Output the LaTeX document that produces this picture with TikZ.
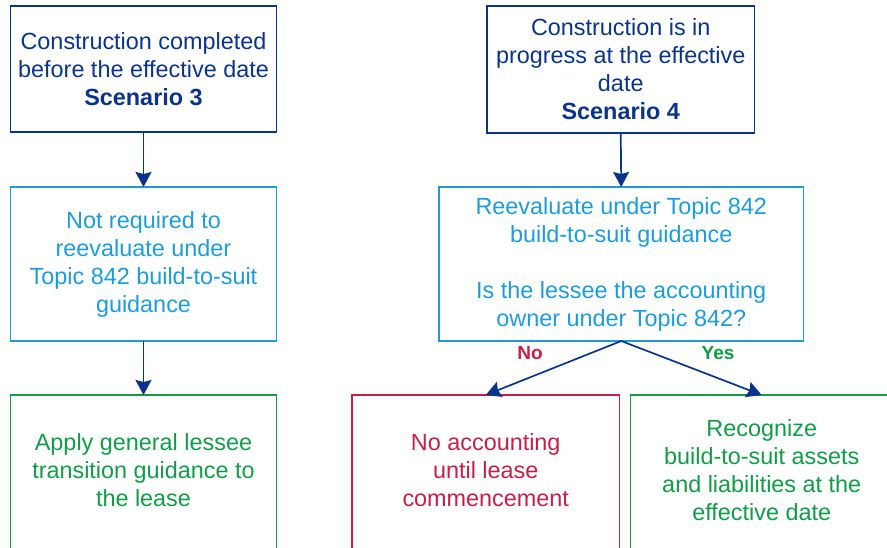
\documentclass[tikz,border=0pt]{standalone}
\usepackage{fontspec}
\setmainfont{Liberation Sans}
\usetikzlibrary{arrows.meta}
\definecolor{navy}{RGB}{10,52,140}
\definecolor{lblue}{RGB}{30,156,218}
\definecolor{lgreen}{RGB}{18,156,72}
\definecolor{crim}{RGB}{196,32,74}
\tikzset{
  box/.style={draw, line width=1.5pt, inner sep=0pt, outer sep=0pt, align=center,
    font=\fontsize{23.4}{28}\selectfont},
  txt/.style={inner sep=0pt, align=center, font=\fontsize{23.4}{28}\selectfont},
  navybox/.style={box, draw=navy, text=navy},
  bluebox/.style={box, draw=lblue, text=lblue},
  greenbox/.style={box, draw=lgreen, text=lgreen},
  redbox/.style={box, draw=crim, text=crim},
  arr/.style={draw=navy, line width=1.7pt, -{Stealth[length=15pt,width=16pt,inset=2pt]}},
  lab/.style={font=\fontsize{19}{22}\selectfont\bfseries, inner sep=0pt}
}
\begin{document}
\begin{tikzpicture}[x=1pt,y=-1pt]
\clip (0,0) rectangle (887,548);
\fill[white] (0,0) rectangle (887,548);
\node[navybox, minimum width=266pt, minimum height=126pt] (b1) at (143.5,69)
  {Construction completed\\before the effective date\\\textbf{Scenario 3}};
\node[navybox, minimum width=267.5pt, minimum height=127pt] (b2) at (620.75,69.5)
  {Construction is in\\progress at the effective\\date\\\textbf{Scenario 4}};
\node[bluebox, minimum width=266pt, minimum height=154pt] (b3) at (143.5,264)
  {Not required to\\reevaluate under\\Topic 842 build-to-suit\\guidance};
\node[bluebox, minimum width=364.5pt, minimum height=154pt] (b4) at (621.25,264)
  {Reevaluate under Topic 842\\build-to-suit guidance\\[28pt]Is the lessee the accounting\\owner under Topic 842?};
\node[greenbox, minimum width=266pt, minimum height=156pt] (b5) at (143.5,473) {};
\node[txt, text=lgreen] (t5) at (143.5,470)
  {Apply general lessee\\transition guidance to\\the lease};
\node[redbox, minimum width=267.5pt, minimum height=156pt] (b6) at (485.75,473) {};
\node[txt, text=crim] (t6) at (485.75,470)
  {No accounting\\until lease\\commencement};
\node[greenbox, minimum width=262.5pt, minimum height=156pt] (b7) at (761.75,473) {};
\node[txt, text=lgreen] (t7) at (761.75,470)
  {Recognize\\build-to-suit assets\\and liabilities at the\\effective date};
\draw[arr] (b1.south) -- (b3.north);
\draw[arr] (b3.south) -- (b5.north);
\draw[arr] (b2.south) -- (b4.north);
\draw[arr] (b4.south) -- (b6.north);
\draw[arr] (b4.south) -- (b7.north);
\node[lab, text=crim] (no) at (530,353) {No};
\node[lab, text=lgreen] (yes) at (718,353) {Yes};
\end{tikzpicture}
\end{document}
